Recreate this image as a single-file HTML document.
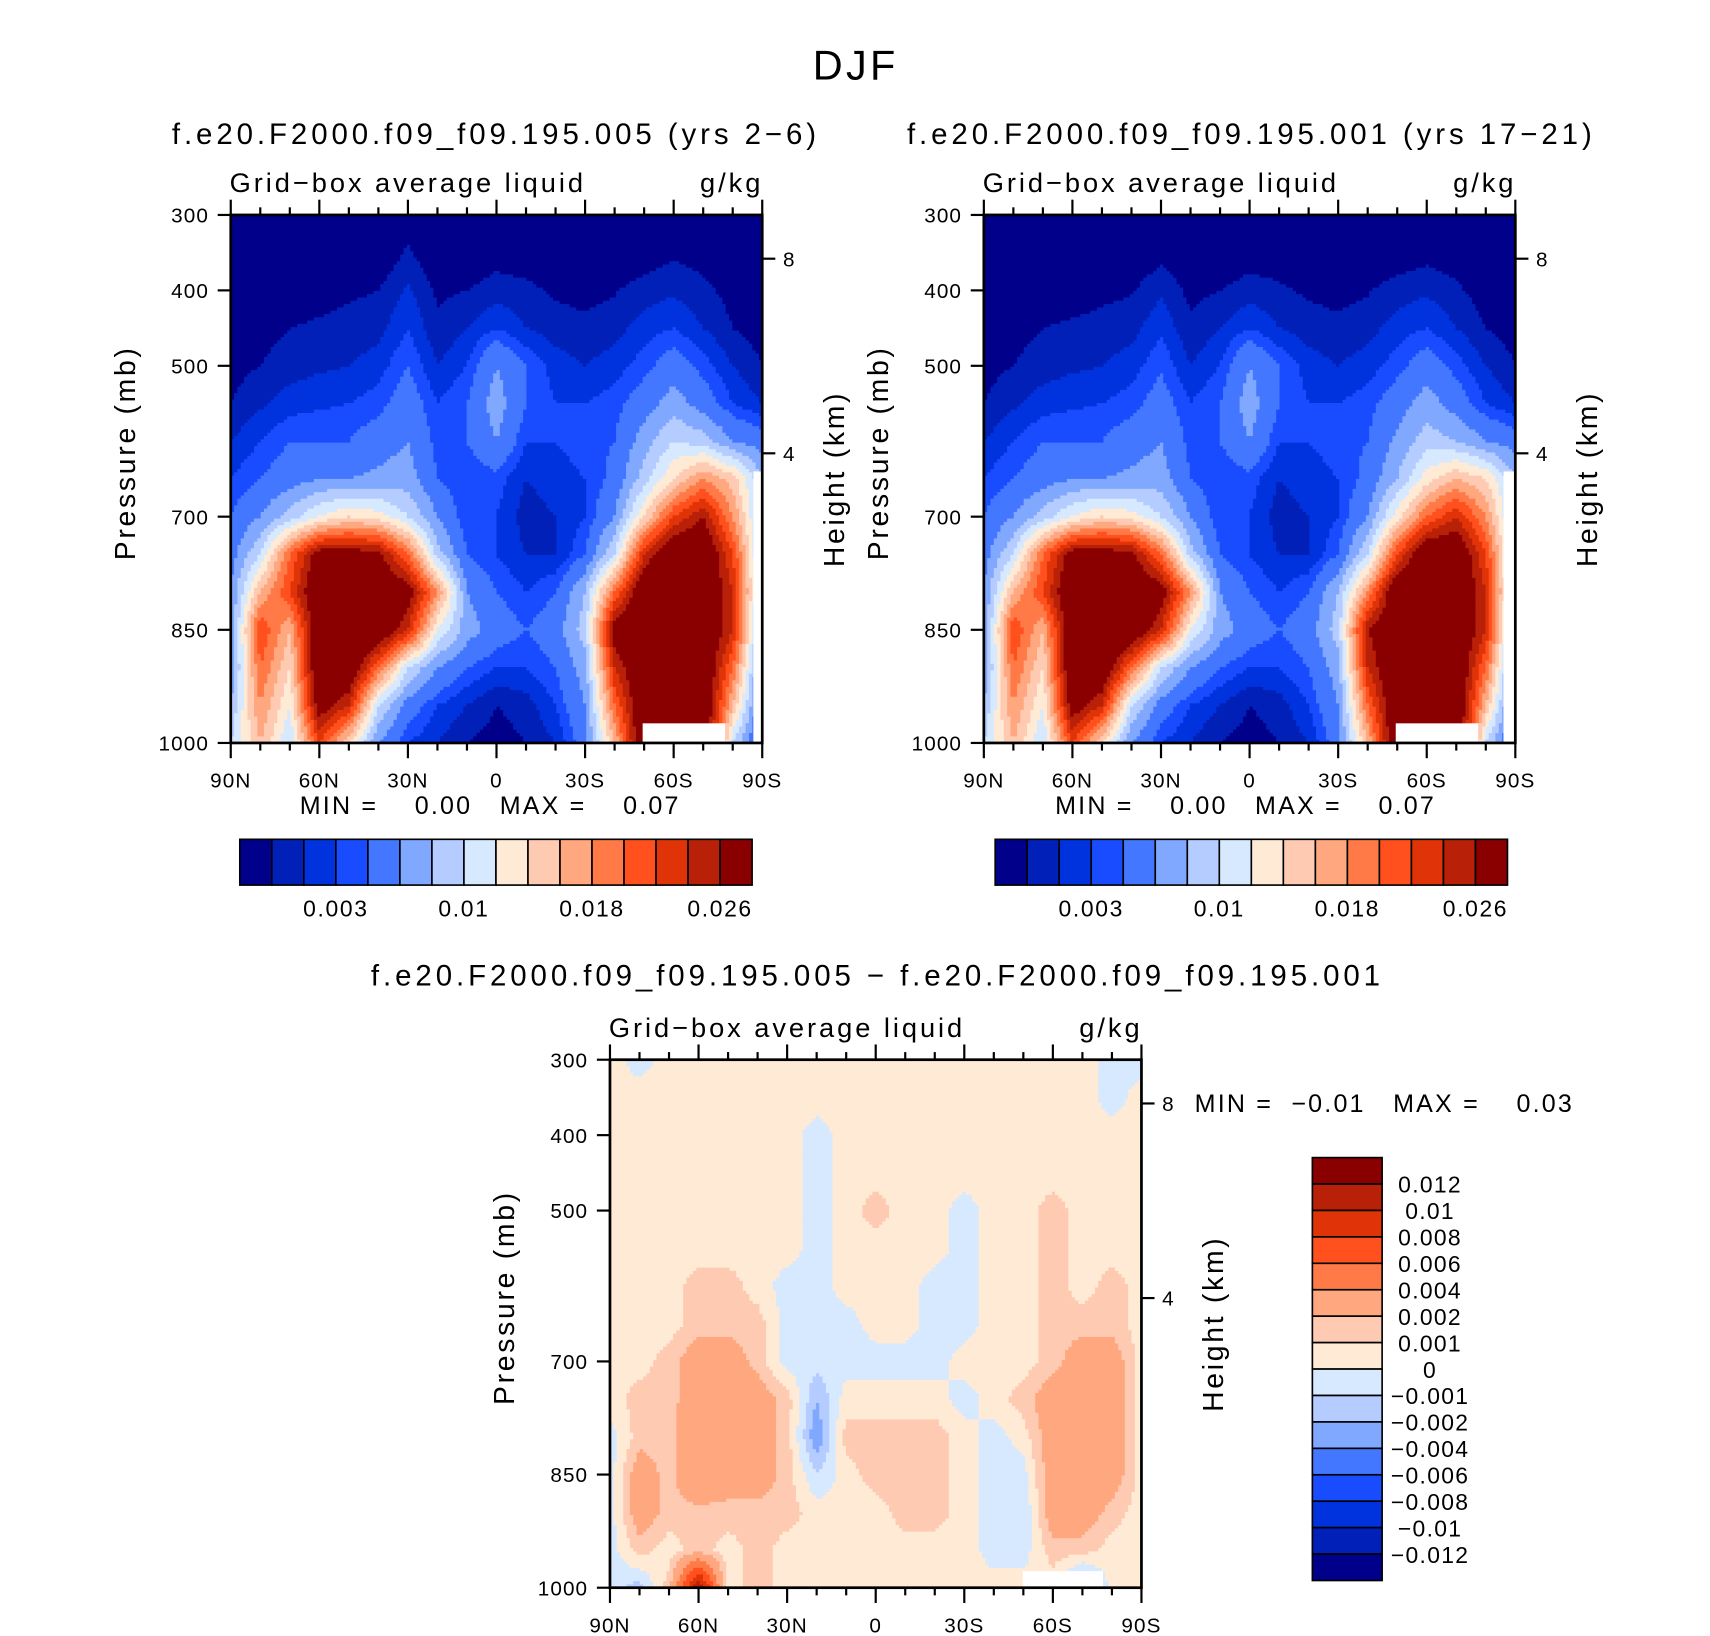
<!DOCTYPE html>
<html><head><meta charset="utf-8">
<style>
html,body{margin:0;padding:0;background:#fff;}
svg{display:block;font-family:"Liberation Sans",sans-serif;}
text{white-space:pre;}
</style></head>
<body>
<svg id="fig" width="1710" height="1636" viewBox="0 0 1568.8 1500.9" preserveAspectRatio="none" xmlns="http://www.w3.org/2000/svg">
<rect width="1570" height="1502" fill="#fff"/>
<text x="785" y="73" font-size="38" letter-spacing="3" text-anchor="middle" fill="#000">DJF</text>
<g id="layer"></g>
</svg>
<script>
const palette=["#00008a","#0020b8","#0033dd","#1a4cff","#4477ff","#80a8ff","#b4ccff","#d6e9ff","#ffead6","#ffcab2","#ffa880","#ff7a46","#ff501e","#e03408","#b82008","#8a0000"];
const lats=[90,80,70,60,50,40,30,20,10,0,-10,-20,-30,-40,-50,-60,-70,-80,-90];
const pres=[300,350,400,450,500,550,600,650,700,750,800,850,900,950,1000];
const xTickLabels=["90N","60N","30N","0","30S","60S","90S"];
const xTickLats=[90,60,30,0,-30,-60,-90];
const pTicks=[300,400,500,700,850,1000];
const hTicks=[8,4];
const hTickP=[358,616];
// contour levels in 1e-3 g/kg
const bounds1=[1,2,3,4,6,8,10,12,14,16,18,20,22,24,26];
const bounds3=[-12,-10,-8,-6,-4,-2,-1,0,1,2,4,6,8,10,12];
const cbLabels1=["0.003","0.01","0.018","0.026"];
const cbLabelIdx1=[3,7,11,15];
const cbLabels3=["0.012","0.01","0.008","0.006","0.004","0.002","0.001","0","\u22120.001","\u22120.002","\u22120.004","\u22120.006","\u22120.008","\u22120.01","\u22120.012"];
// field 1: case 005 (1e-3 g/kg), rows = pres, cols = lats
const field1=[
[0,0,0,0,0,0,0.3,0,0,0,0,0,0,0,0,0,0,0,0],
[0,0,0,0,0,0,1.2,0,0,0.5,0.3,0,0,0,0.3,0.8,0.5,0,0],
[0,0,0.3,0.5,0.8,1,2.2,0.8,1,1.5,1.3,0.8,0.6,0.9,1.5,1.8,1.3,0.6,0.2],
[0.5,0.6,1,1.2,1.4,1.6,3,1.2,2,3,2,1.5,1.3,1.6,2.5,3,2,1,0.5],
[0.6,1,1.5,1.8,2,2.5,4,2,3,6,4,2.5,2,2.5,3.5,5,3.5,2,1],
[1,1.8,2.5,2.8,3,3.5,5,3,4,7,4,3,3,3.5,5,7,5,3,2],
[2,3,4,4,4,5,6,3.5,4,6,3,3,3.5,4,7,10,9,6,5],
[3,4,5,6,6,6.5,7,4,3,3.5,2,2.5,3,4.5,9,14,18,15,8],
[4,6,9,12,14,13,10,6,3,3,1.5,2,3,6,14,22,26,18,8],
[5,10,20,28,28,27,20,9,4,3,2,2,4,10,24,30,30,22,8],
[6,16,22,30,30,30,28,18,6,4,3,4,8,20,30,30,30,24,8],
[6,22,16,30,30,30,24,12,7,5,4,5,9,28,30,30,30,24,6],
[6,20,14,30,30,20,10,6,4,3,3,4,7,24,30,30,30,20,4],
[8,18,12,28,24,10,5,3,2,1,1.5,3,6,20,30,30,30,16,3],
[10,16,10,22,14,6,3,2,1,0.5,1,2,5,16,30,30,30,10,2]];
// field 2: case 001
const field2=[
[0,0,0,0,0,0,0,0,0,0,0,0,0,0,0,0,0,0,0],
[0,0,0,0,0,0,0.6,0,0,0.4,0.3,0,0,0,0.2,0.6,0.4,0,0],
[0,0,0.2,0.4,0.7,0.9,1.8,0.7,1,1.5,1.2,0.8,0.6,0.9,1.5,1.8,1.2,0.5,0.2],
[0.5,0.6,1,1.2,1.4,1.6,2.8,1.2,2,3,2,1.5,1.3,1.6,2.5,3,2,1,0.5],
[0.6,1,1.5,1.8,2,2.5,3.8,2,3,6,4,2.5,2,2.5,3.5,5,3.5,2,1],
[1,1.8,2.5,2.8,3,3.5,4.8,3,4,7,4,3,3,3.5,5,7,5,3,2],
[2,3,4,4,4,5,6,3.5,4,6,3,3,3.5,4,6.5,9,8,6,5],
[3,4,5,6,6,6.5,7,4,3,3.5,2,2.5,3,4.5,8,13,16,14,8],
[4,6,9,12,14,13,10,6,3,3,1.5,2,3,6,13,20,24,18,8],
[5,10,20,28,28,27,20,9,4,3,2,2,4,10,22,30,30,22,8],
[6,16,22,30,30,30,28,18,6,4,3,4,8,18,30,30,30,24,8],
[6,22,16,30,30,30,24,12,7,5,4,5,9,26,30,30,30,24,6],
[6,20,14,30,30,20,10,6,4,3,3,4,7,24,30,30,30,20,4],
[8,18,12,28,24,10,5,3,2,1,1.5,3,6,20,30,30,30,16,3],
[10,16,10,22,14,6,3,2,1,0.5,1,2,5,16,30,30,30,10,2]];
// field 3: difference (1e-3 g/kg)
const field3=[
[0.5,-0.5,0.5,0.5,0.5,0.5,0.5,0.5,0.5,0.5,0.5,0.5,0.5,0.5,0.5,0.5,0.5,-0.5,-0.5],
[0.5,0.5,0.5,0.5,0.5,0.5,0.5,0.5,0.5,0.5,0.5,0.5,0.5,0.5,0.5,0.5,0.5,-0.5,0.5],
[0.5,0.5,0.5,0.5,0.5,0.5,0.5,-0.5,0.5,0.5,0.5,0.5,0.5,0.5,0.5,0.5,0.5,0.5,0.5],
[0.5,0.5,0.5,0.5,0.5,0.5,0.5,-0.5,0.5,0.5,0.5,0.5,0.5,0.5,0.5,0.5,0.5,0.5,0.5],
[0.5,0.5,0.5,0.5,0.5,0.5,0.5,-0.5,0.5,1.5,0.5,0.5,-0.5,0.5,0.5,1.5,0.5,0.5,0.5],
[0.5,0.5,0.5,0.5,0.5,0.5,0.5,-0.5,0.5,0.5,0.5,0.5,-0.5,0.5,0.5,1.5,0.5,0.5,0.5],
[0.5,0.5,0.5,1.5,1.5,0.5,-0.5,-0.5,0.5,0.5,0.5,-0.5,-0.5,0.5,0.5,1.5,0.5,1.5,0.5],
[0.5,0.5,0.5,1.5,1.5,1.5,-0.5,-0.5,-0.5,0.5,0.5,-0.5,-0.5,0.5,0.5,1.5,1.5,1.5,0.5],
[0.5,0.5,1.5,3,3,1.5,-0.5,-0.5,-0.5,-0.5,-0.5,-0.5,0.5,0.5,0.5,1.5,3,3,0.5],
[0.5,1.5,1.5,3,3.5,3,1.5,-2,0.5,0.5,0.5,0.5,-0.5,0.5,1.5,3,4,3,0.5],
[-0.5,1.5,1.5,4,3,3,1.5,-3,1.5,1.5,1.5,1.5,0.5,-0.5,0.5,3,4,3,0.5],
[-0.5,3,1.5,4,3,3,1.5,-1,0.5,1.5,1.5,1.5,0.5,-0.5,-0.5,3,3,3,0.5],
[-0.5,3,1.5,1.5,1.5,1.5,1.5,0.5,0.5,0.5,1.5,1.5,0.5,-0.5,-1,3,3,1.5,0.5],
[-0.5,1.5,0.5,1.5,0.5,1.5,0.5,0.5,0.5,0.5,0.5,0.5,0.5,-0.5,-0.5,1.5,1.5,0.5,0.5],
[-0.5,-1.5,1.5,12,0.5,1.5,0.5,0.5,0.5,0.5,0.5,0.5,0.5,0.5,0.5,0.5,-3,0.5,0.5]];

const NS="http://www.w3.org/2000/svg";
const layer=document.getElementById('layer');
function mk(tag,attrs,parent){const e=document.createElementNS(NS,tag);for(const k in attrs)e.setAttribute(k,attrs[k]);(parent||layer).appendChild(e);return e;}
function level(v,b){let i=0;while(i<b.length&&v>=b[i])i++;return i;}
function sample(grid,lat,p){
  let fx=(90-lat)/10, fy=(p-300)/50;
  let i0=Math.min(Math.floor(fx),lats.length-2), j0=Math.min(Math.floor(fy),pres.length-2);
  let tx=fx-i0, ty=fy-j0;
  const a=grid[j0][i0],b=grid[j0][i0+1],c=grid[j0+1][i0],d=grid[j0+1][i0+1];
  return a*(1-tx)*(1-ty)+b*tx*(1-ty)+c*(1-tx)*ty+d*tx*ty;
}
const TL={'font-size':19,'letter-spacing':1};
function drawPanel(cfg){
  const {x0,y0,w,h,grid,bounds,cols,name,masks}=cfg;
  const g=mk('g',{});
  
  
  const sx=lat=>x0+(90-lat)/180*w, sy=p=>y0+(p-300)/700*h;
  const N=160, cw=w/N, ch=h/N;
  for(let r=0;r<N;r++){
    const p=300+(r+0.5)/N*700;
    let runStart=0, runCol=null;
    for(let c=0;c<=N;c++){
      let col=null;
      if(c<N){const lat=90-(c+0.5)/N*180;col=cols[level(sample(grid,lat,p),bounds)];}
      if(col!==runCol){
        if(runCol!==null){
          const rc=mk('rect',{x:(x0+runStart*cw).toFixed(2),y:(y0+r*ch).toFixed(2),width:((c-runStart)*cw+0.5).toFixed(2),height:(ch+0.5).toFixed(2),fill:runCol},g);
          
          
        }
        runStart=c;runCol=col;
      }
    }
  }
  (masks||[]).forEach(m=>{
    const e=mk('rect',{x:sx(m[0]),y:sy(m[2]),width:sx(m[1])-sx(m[0]),height:sy(m[3])-sy(m[2]),fill:'#fff'},g);
    
    
  });
  const fr=mk('rect',{x:x0,y:y0,width:w,height:h,fill:'none',stroke:'#000','stroke-width':2.5});
  
  
  const ax=mk('g',{stroke:'#000','stroke-width':2});
  
  
  for(let lat=90;lat>=-90;lat-=10){
    const major=lat%30===0, L=major?14:7, x=sx(lat);
    mk('line',{x1:x,x2:x,y1:y0,y2:y0-L},ax);
    mk('line',{x1:x,x2:x,y1:y0+h,y2:y0+h+L},ax);
  }
  xTickLats.forEach((lat,i)=>{
    const t=mk('text',Object.assign({x:sx(lat),y:y0+h+41,'text-anchor':'middle'},TL));
    t.textContent=xTickLabels[i];
    
    
  });
  pTicks.forEach(p=>{
    mk('line',{x1:x0,x2:x0-12,y1:sy(p),y2:sy(p)},ax);
    const t=mk('text',Object.assign({x:x0-20,y:sy(p)+7,'text-anchor':'end'},TL));
    t.textContent=p;
    
    
  });
  hTicks.forEach((hh,i)=>{
    const y=sy(hTickP[i]);
    mk('line',{x1:x0+w,x2:x0+w+12,y1:y,y2:y},ax);
    const t=mk('text',Object.assign({x:x0+w+19,y:y+7},TL));
    t.textContent=hh;
    
    
  });
  const yl=mk('text',{transform:`translate(${x0-88},${y0+h/2-24}) rotate(-90)`,'font-size':26,'letter-spacing':2.5,'text-anchor':'middle'});
  yl.textContent='Pressure (mb)';
  
  
  const hl=mk('text',{transform:`translate(${x0+w+75},${y0+h/2}) rotate(-90)`,'font-size':26,'letter-spacing':2.5,'text-anchor':'middle'});
  hl.textContent='Height (km)';
  
  
  const s1=mk('text',{x:x0-1,y:y0-21,'font-size':25,'letter-spacing':2.7});
  s1.textContent='Grid\u2212box average liquid';
  
  
  const s2=mk('text',{x:x0+w+1,y:y0-21,'font-size':25,'letter-spacing':2.7,'text-anchor':'end'});
  s2.textContent='g/kg';
  
  
  const tt=mk('text',{x:cfg.tx,y:cfg.ty,'font-size':27,'letter-spacing':3.6,'text-anchor':'middle'});
  tt.textContent=cfg.title;
  
  
}
function hColorbar(x0,y0,w,h,name){
  const g=mk('g',{});
  
  
  const bw=w/palette.length;
  palette.forEach((c,i)=>{
    const r=mk('rect',{x:x0+i*bw,y:y0,width:bw,height:h,fill:c,stroke:'#000','stroke-width':1.5},g);
    
    
  });
  cbLabels1.forEach((l,i)=>{
    const t=mk('text',{x:x0+cbLabelIdx1[i]*bw,y:y0+h+29,'font-size':21,'letter-spacing':1.5,'text-anchor':'middle'},g);
    t.textContent=l;
    
    
  });
}
function minmax(x,y,txt,name){
  const t=mk('text',{x:x,y:y,'font-size':23,'letter-spacing':2});
  t.textContent=txt;
  
  
}
drawPanel({x0:211.7,y0:197.2,w:487.6,h:484.4,grid:field1,bounds:bounds1,cols:palette,name:'panel-005',tx:455,ty:132,title:'f.e20.F2000.f09_f09.195.005 (yrs 2\u22126)',masks:[[-49.5,-77.5,974,1000],[-87,-90,640,1000]]});
minmax(275,747,'MIN =    0.00   MAX =    0.07','panel-005-min-max');
hColorbar(220,770,470,42,'panel-005-colorbar');
drawPanel({x0:902.6,y0:197.2,w:487.6,h:484.4,grid:field2,bounds:bounds1,cols:palette,name:'panel-001',tx:1148,ty:132,title:'f.e20.F2000.f09_f09.195.001 (yrs 17\u221221)',masks:[[-49.5,-77.5,974,1000],[-86,-90,640,1000]]});
minmax(968,747,'MIN =    0.00   MAX =    0.07','panel-001-min-max');
hColorbar(913,770,470,42,'panel-001-colorbar');
drawPanel({x0:559.6,y0:972.2,w:487.6,h:484.4,grid:field3,bounds:bounds3,cols:palette,name:'panel-diff',tx:805,ty:904,title:'f.e20.F2000.f09_f09.195.005 \u2212 f.e20.F2000.f09_f09.195.001',masks:[[-49.8,-77,978,1000]]});
minmax(1096,1020,'MIN =  \u22120.01   MAX =    0.03','panel-diff-min-max');
(function(){
  const x0=1204,y0=1062,w=64,h=388;
  const g=mk('g',{});
  
  
  const bh=h/palette.length;
  palette.slice().reverse().forEach((c,i)=>{
    const r=mk('rect',{x:x0,y:y0+i*bh,width:w,height:bh,fill:c,stroke:'#000','stroke-width':1.5},g);
    
    
  });
  cbLabels3.forEach((l,i)=>{
    const t=mk('text',{x:1312,y:y0+(i+1)*bh+8,'font-size':21,'letter-spacing':1.2,'text-anchor':'middle'},g);
    t.textContent=l;
    
    
  });
})();
</script>
</body></html>
